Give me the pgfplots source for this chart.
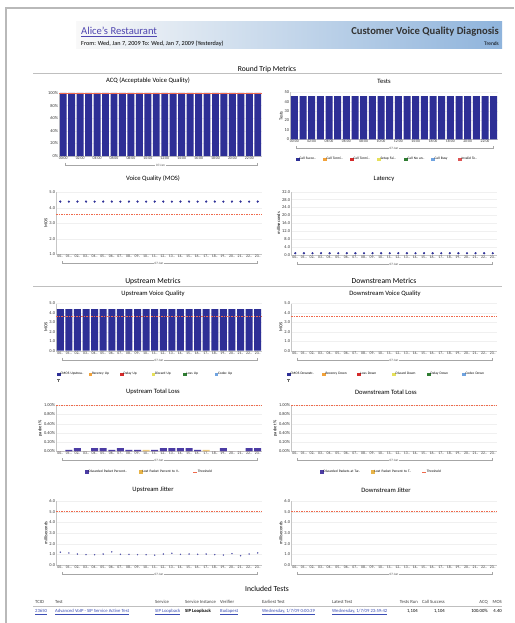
\documentclass[border=0pt]{standalone}
\usepackage{fontspec}
\setmainfont{Carlito}
\usepackage{pgfplots}
\usepackage{pgfplotstable}
\pgfplotsset{compat=1.18}
\newcommand\fs[1]{\fontsize{#1}{#1}\selectfont}
\definecolor{navy}{HTML}{2D2F96}
\definecolor{thr}{HTML}{EF6A4C}
\definecolor{lnk}{HTML}{3C4EB4}
\definecolor{corange}{HTML}{F2A23A}
\definecolor{cred}{HTML}{D42A2A}
\definecolor{cyellow}{HTML}{E6E05A}
\definecolor{cgreen}{HTML}{2F7D32}
\definecolor{cblue}{HTML}{6FA3E0}
\definecolor{cpurple}{HTML}{4C3CA4}
\definecolor{cgold}{HTML}{E8B448}
\definecolor{alice}{HTML}{4F46B0}
\definecolor{sky}{HTML}{8FB4DC}

\pgfplotstableread{
h acq tests mos lat uvq jit ld ll
0 100 46 4.4 0.9 4.4 1.20 0 0
1 100 46 4.4 0.9 4.4 1.13 0.03 0
2 100 46 4.4 0.9 4.4 1.03 0.07 0
3 100 46 4.4 0.9 4.4 0.97 0 0
4 100 46 4.4 0.9 4.4 0.97 0.07 0
5 100 46 4.4 0.9 4.4 1.03 0.07 0
6 100 46 4.4 0.9 4.4 1.23 0.03 0
7 100 46 4.4 0.9 4.4 1.00 0.07 0
8 100 46 4.4 0.9 4.4 1.00 0.03 0
9 100 46 4.4 0.9 4.4 0.97 0.03 0
10 100 46 4.4 0.9 4.4 0.97 0 0.03
11 100 46 4.4 0.9 4.4 0.93 0.03 0
12 100 46 4.4 0.9 4.4 1.03 0.07 0
13 100 46 4.4 0.9 4.4 1.10 0.07 0
14 100 46 4.4 0.9 4.4 1.00 0.07 0
15 100 46 4.4 0.9 4.4 1.03 0.07 0
16 100 46 4.4 0.9 4.4 1.00 0.03 0
17 100 46 4.4 0.9 4.4 1.03 0 0.03
18 100 46 4.4 0.9 4.4 0.97 0 0
19 100 46 4.4 0.9 4.4 0.93 0.07 0
20 100 46 4.4 0.9 4.4 1.07 0 0
21 100 46 4.4 0.9 4.4 0.87 0 0
22 100 46 4.4 0.9 4.4 1.03 0.07 0
23 100 46 4.4 0.9 4.4 1.13 0.07 0
}\hourly

\pgfplotsset{
  base/.style={scale only axis, clip=false, axis lines=left,
    axis line style={gray!45, line width=0.4pt, -},
    major tick length=0pt, xmin=-0.5, xmax=23.5,
    ticklabel style={inner sep=0.8pt, text=black!80},
    yticklabel style={font=\fs{4.4}}, xticklabel style={font=\fs{3.8}},
    /pgf/number format/assume math mode=true,
    ylabel style={font=\fs{4.5}, inner sep=1pt},
    ymajorgrids, grid style={gray!12, line width=0.3pt}},
  hours/.style={xtick={0,...,23}, xticklabels={00..,01..,02..,03..,04..,05..,06..,07..,08..,09..,10..,11..,12..,13..,14..,15..,16..,17..,18..,19..,20..,21..,22..,23..}},
  twohours/.style={xtick={0,2,...,22}, xticklabels={00:00,02:00,04:00,06:00,08:00,10:00,12:00,14:00,16:00,18:00,20:00,22:00}},
  onedec/.style={yticklabel style={/pgf/number format/.cd, fixed, fixed zerofill, precision=1}},
  thrs/.style={thr, line width=0.6pt, dash pattern=on 1.5pt off 1pt},
  sq/.style={legend image code/.code={\fill[#1] (0pt,-1.2pt) rectangle (2.4pt,1.2pt);}},
  dl/.style={legend image code/.code={\draw[#1, line width=0.5pt] (0pt,0pt) -- (3.5pt,0pt);}},
  tee/.style={legend image code/.code={\draw[gray!80!black, line width=0.3pt] (1.1pt,-1.6pt) -- (1.1pt,1.4pt) (0pt,1.4pt) -- (2.2pt,1.4pt);}},
  lgd/.style n args={4}{legend cell align=left, legend style={draw=none, fill=none, at={(0,0)}, anchor=north west, xshift=#1, yshift=#2, legend columns=#3, font=\fs{3.5}, inner sep=0pt, row sep=2.3pt, nodes={inner sep=0.6pt, anchor=west, text width=#4}, /tikz/every even column/.append style={column sep=0pt}}},
}
\newcommand\daybr{%
  \draw[gray!70, line width=0.35pt] ([yshift=-6.8pt]axis description cs:0.03,0) -- ([yshift=-9.3pt]axis description cs:0.03,0) -- ([yshift=-9.3pt]axis description cs:0.975,0) -- ([yshift=-6.8pt]axis description cs:0.975,0);
  \node[fill=white, inner sep=0.8pt, font=\fs{3.3}, text=black!70] at ([yshift=-9.3pt]axis description cs:0.5,0) {07-Jan};}

\begin{document}
\begin{tikzpicture}[x=1pt,y=1pt]
\path[use as bounding box] (0,0) rectangle (514,-623);
\fill[white] (0,0) rectangle (514,-623);
% page frame
\draw[gray!55, line width=1.3pt] (6,-623) -- (6,-8) -- (514,-8);
% banner
\shade[left color=gray!5, middle color=blue!7!white, right color=sky] (76,-21.7) rectangle (502,-49);
\node[anchor=base west, font=\fs{10.6}, text=alice, inner sep=0pt] at (81,-35) {\underline{Alice's Restaurant}};
\node[anchor=base west, font=\fs{6.2}, inner sep=0pt] at (81,-45.5) {From: Wed, Jan 7, 2009 To: Wed, Jan 7, 2009 (Yesterday)};
\node[anchor=base east, font=\bfseries\fs{10.6}, text=black!80, inner sep=0pt] at (499,-35) {Customer Voice Quality Diagnosis};
\node[anchor=base east, font=\fs{5.4}, inner sep=0pt] at (499,-45.5) {Trends};

% section headings
\node[font=\fs{7.6}] at (267,-69.3) {Round Trip Metrics};
\draw[gray!50, line width=0.6pt] (33,-73.3) -- (502,-73.3);
\node[font=\fs{7.6}] at (153,-281) {Upstream Metrics};
\node[font=\fs{7.6}] at (384,-281) {Downstream Metrics};
\draw[gray!50, line width=0.6pt] (33,-286) -- (502,-286);
\node[font=\fs{7.6}] at (267,-589) {Included Tests};

% chart titles
\begin{scope}[every node/.style={font=\fs{6.6}}]
\node at (148,-81) {ACQ (Acceptable Voice Quality)};
\node at (384,-81) {Tests};
\node at (153,-179) {Voice Quality (MOS)};
\node at (384,-179) {Latency};
\node at (153,-294) {Upstream Voice Quality};
\node at (385,-294) {Downstream Voice Quality};
\node at (153,-392) {Upstream Total Loss};
\node at (386,-392) {Downstream Total Loss};
\node at (153,-490) {Upstream Jitter};
\node at (386,-490) {Downstream Jitter};
\end{scope}

% ACQ
\begin{axis}[base, twohours, at={(59pt,-156pt)}, anchor=south west, width=203pt, height=63pt,
  ymin=0, ymax=100, ytick={0,20,...,100}, yticklabels={0\%,20\%,40\%,60\%,80\%,100\%}]
\addplot[ybar, bar width=6.9pt, bar shift=0pt, fill=navy, draw=none] table[x=h, y=acq] {\hourly};
\addplot[thr, line width=0.4pt] coordinates {(-0.45,100) (23.45,100)};
\daybr
\end{axis}

% Tests
\begin{axis}[base, twohours, at={(290pt,-139.3pt)}, anchor=south west, width=208pt, height=47pt,
  ymin=0, ymax=50, ytick={0,10,...,50}, ylabel={Tests},
  lgd={6pt}{-17pt}{-1}{23pt}]
\addplot[ybar, bar width=7pt, bar shift=0pt, fill=navy, draw=none, forget plot] table[x=h, y=tests] {\hourly};
\daybr
\addlegendimage{sq=navy}\addlegendentry{Call Succe..}
\addlegendimage{sq=corange}\addlegendentry{Call Termi..}
\addlegendimage{sq=cred}\addlegendentry{Call Termi..}
\addlegendimage{sq=cyellow}\addlegendentry{Setup Fai..}
\addlegendimage{sq=cgreen}\addlegendentry{Call No an..}
\addlegendimage{sq=cblue}\addlegendentry{Call Busy}
\addlegendimage{sq=cred!80!white}\addlegendentry{Invalid Te..}
\end{axis}

% MOS
\begin{axis}[base, hours, onedec, at={(56pt,-254.3pt)}, anchor=south west, width=206pt, height=62pt,
  ymin=1, ymax=5, ytick={1,2,3,4,5}, ylabel={MOS}]
\addplot[thrs] coordinates {(-0.5,3.6) (23.5,3.6)};
\addplot[only marks, mark=*, mark size=0.9pt, navy] table[x=h, y=mos] {\hourly};
\daybr
\end{axis}

% Latency
\begin{axis}[base, hours, onedec, at={(291pt,-255pt)}, anchor=south west, width=206pt, height=63.3pt,
  ymin=0, ymax=32, ytick={0,4,...,32}, ylabel={milliseconds}]
\addplot[only marks, mark=*, mark size=0.9pt, navy] table[x=h, y=lat] {\hourly};
\daybr
\end{axis}

% Upstream VQ
\begin{axis}[base, hours, onedec, at={(56pt,-350.7pt)}, anchor=south west, width=206pt, height=47.2pt,
  ymin=0, ymax=5, ytick={0,1,...,5}, ylabel={MOS},
  lgd={1pt}{-20.5pt}{6}{27.5pt}]
\addplot[ybar, bar width=7pt, bar shift=0pt, fill=navy, draw=none, forget plot] table[x=h, y=uvq] {\hourly};
\addplot[thrs, forget plot] coordinates {(-0.5,3.6) (23.5,3.6)};
\daybr
\addlegendimage{sq=navy}\addlegendentry{CMOS Upstrea..}
\addlegendimage{sq=corange}\addlegendentry{Recency Up}
\addlegendimage{sq=cred}\addlegendentry{Delay Up}
\addlegendimage{sq=cyellow}\addlegendentry{Discard Up}
\addlegendimage{sq=cgreen}\addlegendentry{Loss Up}
\addlegendimage{sq=cblue}\addlegendentry{Codec Up}
\addlegendimage{tee}\addlegendentry{}
\end{axis}

% Downstream VQ
\begin{axis}[base, hours, onedec, at={(291pt,-350.7pt)}, anchor=south west, width=206pt, height=47.2pt,
  ymin=0, ymax=5, ytick={0,1,...,5}, ylabel={MOS},
  lgd={-4pt}{-20.5pt}{6}{31pt}]
\addplot[thrs, forget plot] coordinates {(-0.5,3.6) (23.5,3.6)};
\daybr
\addlegendimage{sq=navy}\addlegendentry{CMOS Downstr..}
\addlegendimage{sq=corange}\addlegendentry{Recency Down}
\addlegendimage{sq=cred}\addlegendentry{Loss Down}
\addlegendimage{sq=cyellow}\addlegendentry{Discard Down}
\addlegendimage{sq=cgreen}\addlegendentry{Delay Down}
\addlegendimage{sq=cblue}\addlegendentry{Codec Down}
\addlegendimage{tee}\addlegendentry{}
\end{axis}

% Upstream total loss
\begin{axis}[base, hours, at={(56pt,-451.3pt)}, anchor=south west, width=206pt, height=46pt,
  ymin=0, ymax=1, ytick={0,0.2,0.4,0.6,0.8,1}, yticklabels={0.00\%,0.20\%,0.40\%,0.60\%,0.80\%,1.00\%},
  ylabel={packet \%}, lgd={29pt}{-17.7pt}{-1}{50pt}]
\addplot[ybar, bar width=7pt, bar shift=0pt, fill=cpurple, draw=none, forget plot] table[x=h, y=ld] {\hourly};
\addplot[ybar, bar width=7pt, bar shift=0pt, fill=cgold!70!white, draw=none, forget plot] table[x=h, y=ll] {\hourly};
\addplot[thrs, forget plot] coordinates {(-0.5,1) (23.5,1)};
\daybr
\addlegendimage{sq=cpurple}\addlegendentry{Discarded Packet Percent..}
\addlegendimage{sq=cgold}\addlegendentry{Lost Packet Percent to V..}
\addlegendimage{dl=thr}\addlegendentry{Threshold}
\end{axis}

% Downstream total loss
\begin{axis}[base, hours, at={(291pt,-451.3pt)}, anchor=south west, width=206pt, height=46pt,
  ymin=0, ymax=1, ytick={0,0.2,0.4,0.6,0.8,1}, yticklabels={0.00\%,0.20\%,0.40\%,0.60\%,0.80\%,1.00\%},
  ylabel={packet \%}, lgd={29pt}{-17.7pt}{-1}{47pt}]
\addplot[thrs, forget plot] coordinates {(-0.5,1) (23.5,1)};
\daybr
\addlegendimage{sq=cpurple}\addlegendentry{Discarded Packets at Tar..}
\addlegendimage{sq=cgold}\addlegendentry{Lost Packet Percent to T..}
\addlegendimage{dl=thr}\addlegendentry{Threshold}
\end{axis}

% Upstream jitter
\begin{axis}[base, hours, onedec, at={(56pt,-565pt)}, anchor=south west, width=206pt, height=64pt,
  ymin=0, ymax=6, ytick={0,1,...,6}, ylabel={milliseconds}]
\addplot[thrs] coordinates {(-0.5,5) (23.5,5)};
\addplot[only marks, mark=*, mark size=0.5pt, navy!80] table[x=h, y=jit] {\hourly};
\daybr
\end{axis}

% Downstream jitter
\begin{axis}[base, hours, onedec, at={(291pt,-565pt)}, anchor=south west, width=206pt, height=64pt,
  ymin=0, ymax=6, ytick={0,1,...,6}, ylabel={milliseconds}]
\addplot[thrs] coordinates {(-0.5,5) (23.5,5)};
\daybr
\end{axis}

% Included tests table
\begin{scope}[every node/.style={font=\fs{4.7}, inner sep=0pt, text=black!75}]
\node[anchor=base west] at (35,-603) {TCID};
\node[anchor=base west] at (55,-603) {Test};
\node[anchor=base west] at (155,-603) {Service};
\node[anchor=base west] at (185,-603) {Service Instance};
\node[anchor=base west] at (220,-603) {Verifier};
\node[anchor=base west] at (262,-603) {Earliest Test};
\node[anchor=base west] at (332,-603) {Latest Test};
\node[anchor=base east] at (418,-603) {Tests Run};
\node[anchor=base east] at (445,-603) {Call Success};
\node[anchor=base east] at (488,-603) {ACQ};
\node[anchor=base east] at (502,-603) {MOS};
\end{scope}
\draw[gray!50, line width=0.6pt] (33,-606) -- (502,-606);
\begin{scope}[every node/.style={font=\fs{4.7}, inner sep=0pt, text=lnk}]
\node[anchor=base west] at (35,-612.5) {\underline{23650}};
\node[anchor=base west] at (55,-612.5) {\underline{Advanced VoIP - SIP Service Active Test}};
\node[anchor=base west] at (155,-612.5) {\underline{SIP Loopback}};
\node[anchor=base west, text=black, font=\bfseries\fs{4.7}] at (185,-612.5) {SIP Loopback};
\node[anchor=base west] at (220,-612.5) {\underline{Budapest}};
\node[anchor=base west] at (262,-612.5) {\underline{Wednesday, 1/7/09 0:00:39}};
\node[anchor=base west] at (332,-612.5) {\underline{Wednesday, 1/7/09 23:59:42}};
\node[anchor=base east, text=black] at (418,-612.5) {1,104};
\node[anchor=base east, text=black] at (445,-612.5) {1,104};
\node[anchor=base east, text=black] at (488,-612.5) {100.00\%};
\node[anchor=base east, text=black] at (502,-612.5) {4.40};
\end{scope}
\end{tikzpicture}
\end{document}
